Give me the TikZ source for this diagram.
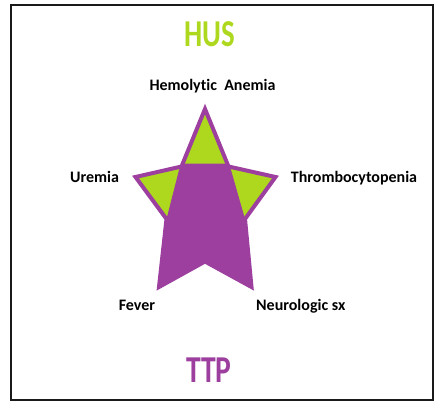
\documentclass[tikz,border=0pt]{standalone}
\usepackage{xcolor}
\usepackage{graphicx}
\usepackage{fontspec}
\setmainfont{Carlito}[Ligatures=NoCommon]
\usepackage{tikz}
\definecolor{starpurple}{HTML}{9D3F9E}
\definecolor{limegreen}{HTML}{ADD81E}
\definecolor{framegray}{HTML}{1A1A1A}

\tikzset{
  sign/.style={anchor=base, inner sep=0pt, font=\bfseries\fontsize{16}{19}\selectfont},
  title/.style={anchor=base, inner sep=0pt, font=\bfseries\fontsize{38}{44}\selectfont}
}

\begin{document}
\begin{tikzpicture}[x=1pt, y=-1pt]
      \useasboundingbox (0,0) rectangle (434,402);
      \clip (0,0) rectangle (434,402);
      \draw[framegray, line width=2pt] (11,5) rectangle (433,400);

      % star points
      \coordinate (tip) at (205,109);
      \coordinate (nr) at (228.5,166.5);
      \coordinate (rtip) at (275.5,177);
      \coordinate (ir) at (245,219);
      \coordinate (brtip) at (251.5,287);
      \coordinate (ib) at (205,261.5);
      \coordinate (bltip) at (159,287);
      \coordinate (il) at (166.5,219);
      \coordinate (ltip) at (135.5,177);
      \coordinate (nl) at (181.5,166.5);

      \fill[limegreen] (tip) -- (nr) -- (rtip) -- (ir) -- (brtip) -- (ib)
        -- (bltip) -- (il) -- (ltip) -- (nl) -- cycle;
      \fill[starpurple] (182,163.5) -- (228.5,163.5) -- (231,170) -- (ir)
        -- (brtip) -- (ib) -- (bltip) -- (il) -- (179,170) -- cycle;
      \draw[starpurple, line width=4pt, line join=miter] (tip) -- (nr) -- (rtip)
        -- (ir) -- (brtip) -- (ib) -- (bltip) -- (il) -- (ltip) -- (nl) -- cycle;

      % labels
      \node[title, text=limegreen] (hus) at (210,46.7) {\scalebox{0.76}[1]{HUS}};
      \node[title, text=starpurple] (ttp) at (209,382.7) {\scalebox{0.78}[1]{TTP}};
      \node[sign] (anemia) at (212.5,90.7) {Hemolytic\ \ Anemia};
      \node[sign] (uremia) at (94.5,182.3) {Uremia};
      \node[sign] (thrombo) at (354,182) {Thrombocytopenia};
      \node[sign] (fever) at (137,310.7) {Fever};
      \node[sign] (neuro) at (300.8,310.7) {Neurologic sx};
\end{tikzpicture}
\end{document}
